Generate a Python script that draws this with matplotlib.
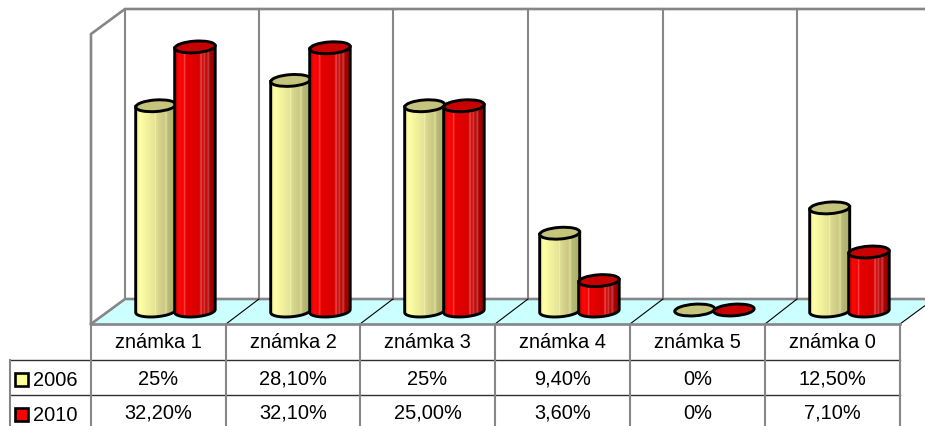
import numpy as np
import matplotlib
matplotlib.use("Agg")
import matplotlib.pyplot as plt
from matplotlib.patches import Polygon, Ellipse, Rectangle
from matplotlib.colors import LinearSegmentedColormap

plt.rcParams['font.family'] = ['Liberation Sans', 'DejaVu Sans']

# Data
categories = ['známka 1', 'známka 2', 'známka 3', 'známka 4', 'známka 5', 'známka 0']
series = ['2006', '2010']
values_2006 = [25, 28.1, 25, 9.4, 0, 12.5]
values_2010 = [32.2, 32.1, 25.0, 3.6, 0, 7.1]
labels_2006 = ['25%', '28,10%', '25%', '9,40%', '0%', '12,50%']
labels_2010 = ['32,20%', '32,10%', '25,00%', '3,60%', '0%', '7,10%']

# Layout, in pixels of the image
col_x = [91, 226, 360, 495, 630, 765, 900]
row_y = [324, 360, 395, 431]
back_x = [125, 259, 393, 528, 663, 797]
wall_top = 9
floor_back = 299
base_y = 311
px_per_pct = 8.17
gray = '#868686'

yellow_cm = LinearSegmentedColormap.from_list('y', [
    (0, '#f0f09c'), (0.1, '#ffffa6'), (0.3, '#f0f09c'), (0.47, '#e4e494'), (0.49, '#f4f4c0'),
    (0.51, '#dcdc90'), (0.7, '#ccc884'), (0.76, '#dcdc98'), (0.8, '#bcbc78'), (1, '#aaaa6c')])
red_cm = LinearSegmentedColormap.from_list('r', [
    (0, '#e00000'), (0.12, '#ff0808'), (0.2, '#f40000'), (0.23, '#ff5050'), (0.26, '#e80000'),
    (0.6, '#d80000'), (0.64, '#e85050'), (0.68, '#c80000'), (0.72, '#d84848'), (0.76, '#b80000'),
    (0.82, '#c84040'), (0.86, '#a80000'), (1, '#960000')])

fig = plt.figure(figsize=(9.25, 4.27), dpi=100)
ax = fig.add_axes([0, 0, 1, 1])
ax.set_axis_off()

# Floor and walls
ax.add_patch(Polygon([(91, 324), (125, floor_back), (934, floor_back), (900, 324)],
                     fc='#ccffff', ec='none', zorder=1))
ax.plot([91, 91, 125, 926], [324, 34, wall_top, wall_top], color=gray, lw=1.9, zorder=2)
ax.plot([91, 125, 926], [324, floor_back, floor_back], color=gray, lw=1.9, zorder=2)
for x in back_x:
    ax.plot([x, x], [wall_top, floor_back], color=gray, lw=1.5, zorder=2)
for x, xb in zip(col_x[1:], back_x[1:] + [934]):
    ax.plot([x, xb], [324, floor_back], color='black', lw=0.8, zorder=2)


def cylinder(x0, width, value, cmap, top_color, z):
    # one cylinder: gradient body clipped to the outline, then the top ellipse
    h = value * px_per_pct
    xm = x0 + width / 2
    tilt = -4
    ry = 5.8
    top = base_y - h
    if h > 0:
        verts = [(x0, top), (x0 + width, top - 2), (x0 + width, base_y - 2)]
        t = np.linspace(0, np.pi, 30)
        verts += [(xm + width / 2 * np.cos(a), base_y + ry * np.sin(a) - 1.5 * np.cos(a)) for a in t]
        verts += [(x0, top)]
        body = Polygon(verts, closed=True, fc='none', ec='black', lw=2.1, zorder=z + 0.2)
        ax.add_patch(body)
        im = ax.imshow(np.linspace(0, 1, 120).reshape(1, -1), cmap=cmap, aspect='auto',
                       extent=[x0, x0 + width, base_y + ry + 1, top - 3], zorder=z)
        im.set_clip_path(Polygon(verts, closed=True, transform=ax.transData))
    ax.add_patch(Ellipse((xm, top - 1), width, 2 * ry, angle=tilt, fc=top_color, ec='black',
                         lw=2.1, zorder=z + 0.3))


bar_w = 40
for i in range(len(categories)):
    x_y = col_x[i] + 44.7
    cylinder(x_y, bar_w, values_2006[i], yellow_cm, '#c4c47c', 3 + i)
    cylinder(x_y + bar_w - 1, bar_w + 0.5, values_2010[i], red_cm, '#c80000', 3.5 + i)

# Table
ax.plot([col_x[0], col_x[-1]], [row_y[0], row_y[0]], color=gray, lw=1.9, zorder=2)
ax.plot([10, col_x[-1]], [row_y[1], row_y[1]], color='#303030', lw=1.0, zorder=2)
ax.plot([10, col_x[-1]], [row_y[2], row_y[2]], color='#303030', lw=1.0, zorder=2)
for x in col_x:
    ax.plot([x, x], [row_y[0], row_y[3]], color=gray, lw=1.5, zorder=2)
ax.plot([10, 10], [row_y[1], row_y[3]], color=gray, lw=1.5, zorder=2)

fs = 14.4
for i in range(len(categories)):
    xc = (col_x[i] + col_x[i + 1]) / 2
    ax.text(xc, 342, categories[i], ha='center', va='center', fontsize=fs)
    ax.text(xc, 378.5, labels_2006[i], ha='center', va='center', fontsize=fs)
    ax.text(xc, 412.5, labels_2010[i], ha='center', va='center', fontsize=fs)

# Legend keys
for name, y, color in zip(series, [379, 414], ['#ffff99', '#ff0000']):
    ax.add_patch(Rectangle((15, y - 6.5), 13, 13, fc=color, ec='black', lw=1.9, zorder=3))
    ax.text(33, y + 0.5, name, ha='left', va='center', fontsize=fs)

ax.set_xlim(0, 925)
ax.set_ylim(426, -1)
fig.savefig('out.png', dpi=100)
